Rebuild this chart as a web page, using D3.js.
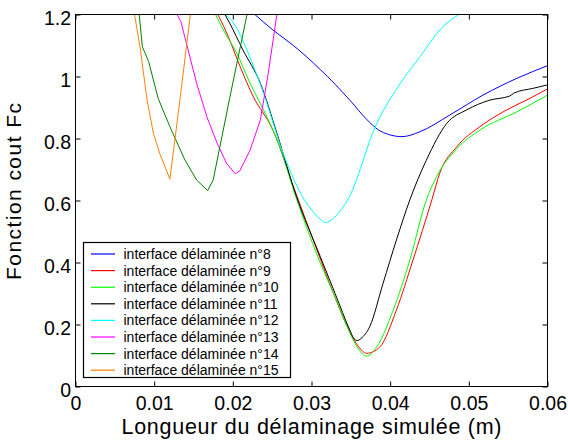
<!DOCTYPE html>
<html>
<head>
<meta charset="utf-8">
<script src="https://cdn.jsdelivr.net/npm/d3@7"></script>
<style>
    body { margin: 0; background: #fff; }
    text { font-family: "Liberation Sans", Arial, sans-serif; }
</style>
</head>
<body>
<div id="chart"></div>
<script>
// legend labels, one per delaminated interface
const seriesNames = [
    "interface délaminée n°8", "interface délaminée n°9", "interface délaminée n°10",
    "interface délaminée n°11", "interface délaminée n°12", "interface délaminée n°13",
    "interface délaminée n°14", "interface délaminée n°15"
];
const seriesColors = ["#0000ff", "#ff0000", "#00ff00", "#000000", "#00ffff", "#ff00ff", "#008000", "#ff8000"];
// smooth curves for the first five, the last three have sharp minima
const seriesSmooth = [true, true, true, true, true, false, false, false];

// [longueur (m), Fc]
const fc8 = [[0.0228,1.200],[0.0251,1.150],[0.0277,1.100],[0.0311,1.023],[0.0330,0.975],
    [0.0350,0.920],[0.0370,0.862],[0.0385,0.828],[0.0398,0.813],[0.0415,0.806],[0.0438,0.822],
    [0.0476,0.876],[0.0518,0.940],[0.0561,0.994],[0.0600,1.035]];
const fc9 = [[0.0181,1.200],[0.0196,1.118],[0.0205,1.059],[0.0226,0.935],[0.0251,0.827],[0.0277,0.645],
    [0.0307,0.440],[0.0328,0.300],[0.0349,0.175],[0.0360,0.128],[0.0370,0.107],[0.0387,0.128],
    [0.0408,0.247],[0.0429,0.408],[0.0453,0.602],[0.0463,0.688],[0.0485,0.774],[0.0514,0.838],
    [0.0548,0.892],[0.0578,0.930],[0.0600,0.960]];
const fc10 = [[0.0178,1.200],[0.0188,1.150],[0.0205,1.075],[0.0222,0.978],[0.0239,0.892],[0.0260,0.770],
    [0.0281,0.605],[0.0311,0.400],[0.0328,0.300],[0.0349,0.172],[0.0360,0.120],[0.0370,0.098],
    [0.0383,0.128],[0.0404,0.247],[0.0425,0.408],[0.0446,0.602],[0.0459,0.677],[0.0485,0.768],
    [0.0514,0.827],[0.0561,0.886],[0.0600,0.940]];
const fc11 = [[0.0190,1.200],[0.0196,1.172],[0.0213,1.085],[0.0235,0.978],[0.0256,0.817],[0.0281,0.612],
    [0.0311,0.420],[0.0330,0.300],[0.0349,0.180],[0.0353,0.158],[0.0358,0.148],[0.0363,0.155],
    [0.0374,0.193],[0.0391,0.333],[0.0408,0.473],[0.0425,0.602],[0.0446,0.730],[0.0472,0.849],
    [0.0497,0.892],[0.0527,0.924],[0.0552,0.937],[0.0557,0.946],[0.0582,0.962],[0.0600,0.973]];
const fc12 = [[0.0191,1.200],[0.0201,1.172],[0.0218,1.085],[0.0239,0.946],[0.0264,0.752],[0.0291,0.602],
    [0.0300,0.570],[0.0311,0.540],[0.0318,0.529],[0.0327,0.540],[0.0336,0.565],[0.0346,0.602],
    [0.0383,0.849],[0.0413,0.978],[0.0438,1.064],[0.0463,1.150],[0.0487,1.200]];
const fc13 = [[0.0129,1.200],[0.0134,1.177],[0.0141,1.107],[0.0154,0.978],[0.0167,0.870],[0.0180,0.785],
    [0.0192,0.720],[0.0203,0.686],[0.0209,0.696],[0.0222,0.763],[0.0235,0.860],[0.0245,1.010],
    [0.0256,1.200]];
const fc14 = [[0.0081,1.200],[0.0085,1.096],[0.0093,1.048],[0.0105,0.930],[0.0120,0.838],[0.0139,0.731],
    [0.0154,0.666],[0.0168,0.632],[0.0175,0.666],[0.0196,0.930],[0.0218,1.200]];
const fc15 = [[0.0075,1.200],[0.0082,1.096],[0.0091,0.924],[0.0099,0.817],[0.0107,0.752],[0.0120,0.669],
    [0.0133,0.930],[0.0146,1.200]];

const allSeries = [fc8, fc9, fc10, fc11, fc12, fc13, fc14, fc15];

// tick values
const xTicks = [0, 0.01, 0.02, 0.03, 0.04, 0.05, 0.06];
const yTicks = [0, 0.2, 0.4, 0.6, 0.8, 1, 1.2];

const width = 568, height = 443;
const margin = { top: 14.5, right: 20.5, bottom: 56.5, left: 75.5 };
const innerW = width - margin.left - margin.right;
const innerH = height - margin.top - margin.bottom;

const svg = d3.select("#chart").append("svg")
    .attr("width", width)
    .attr("height", height);

const g = svg.append("g")
    .attr("transform", `translate(${margin.left},${margin.top})`);

const x = d3.scaleLinear().domain([0, 0.06]).range([0, innerW]);
const y = d3.scaleLinear().domain([0, 1.2]).range([innerH, 0]);

g.append("clipPath").attr("id", "plot-clip")
    .append("rect").attr("width", innerW).attr("height", innerH);

// curves
const smoothLine = d3.line().x(d => x(d[0])).y(d => y(d[1])).curve(d3.curveMonotoneX);
const sharpLine = d3.line().x(d => x(d[0])).y(d => y(d[1])).curve(d3.curveLinear);

g.append("g").attr("clip-path", "url(#plot-clip)")
    .selectAll("path")
    .data(allSeries)
    .join("path")
    .attr("d", (d, i) => seriesSmooth[i] ? smoothLine(d) : sharpLine(d))
    .attr("fill", "none")
    .attr("stroke", (d, i) => seriesColors[i])
    .attr("stroke-width", 1)
    .attr("stroke-linejoin", "round");

// axes, ticks pointing inward
const fmt = d3.format("~g");
const styleAxis = sel => {
    sel.select(".domain").remove();
    sel.selectAll(".tick line").attr("stroke", "#000");
    sel.selectAll("text").attr("fill", "#000").style("font-size", "19.5px");
};

g.append("g")
    .attr("transform", `translate(0,${innerH})`)
    .call(d3.axisBottom(x).tickValues(xTicks).tickFormat(fmt).tickSize(-5).tickPadding(10))
    .call(styleAxis);

g.append("g")
    .call(d3.axisLeft(y).tickValues(yTicks).tickFormat(fmt).tickSize(-5).tickPadding(4.5))
    .call(styleAxis)
    .selectAll("text").attr("dy", "0.5em");

g.append("g")
    .call(d3.axisTop(x).tickValues(xTicks).tickFormat("").tickSize(-5))
    .call(styleAxis);

g.append("g")
    .attr("transform", `translate(${innerW},0)`)
    .call(d3.axisRight(y).tickValues(yTicks).tickFormat("").tickSize(-5))
    .call(styleAxis);

g.append("rect")
    .attr("width", innerW)
    .attr("height", innerH)
    .attr("fill", "none")
    .attr("stroke", "#000")
    .attr("stroke-width", 1);

// axis titles
svg.append("text")
    .attr("x", margin.left + innerW / 2)
    .attr("y", 434)
    .attr("text-anchor", "middle")
    .attr("textLength", 380)
    .attr("lengthAdjust", "spacing")
    .style("font-size", "21.5px")
    .text("Longueur du délaminage simulée (m)");

svg.append("text")
    .attr("transform", "translate(20.5,191.5) rotate(-90)")
    .attr("text-anchor", "middle")
    .attr("textLength", 177)
    .attr("lengthAdjust", "spacing")
    .style("font-size", "21px")
    .text("Fonction cout Fc");

// legend
const legend = svg.append("g").attr("transform", "translate(83.5,242.5)");
legend.append("rect")
    .attr("width", 207)
    .attr("height", 135)
    .attr("fill", "#fff")
    .attr("stroke", "#000")
    .attr("stroke-width", 1.2);

const item = legend.selectAll("g.item")
    .data(seriesNames)
    .join("g")
    .attr("class", "item")
    .attr("transform", (d, i) => `translate(0,${11.5 + i * 16.6})`);

item.append("line")
    .attr("x1", 7.5).attr("x2", 31.5)
    .attr("stroke", (d, i) => seriesColors[i])
    .attr("stroke-width", 1.2);

item.append("text")
    .attr("x", 40)
    .attr("dy", "0.35em")
    .style("font-size", "14px")
    .attr("fill", "#000")
    .text(d => d);
</script>
</body>
</html>
